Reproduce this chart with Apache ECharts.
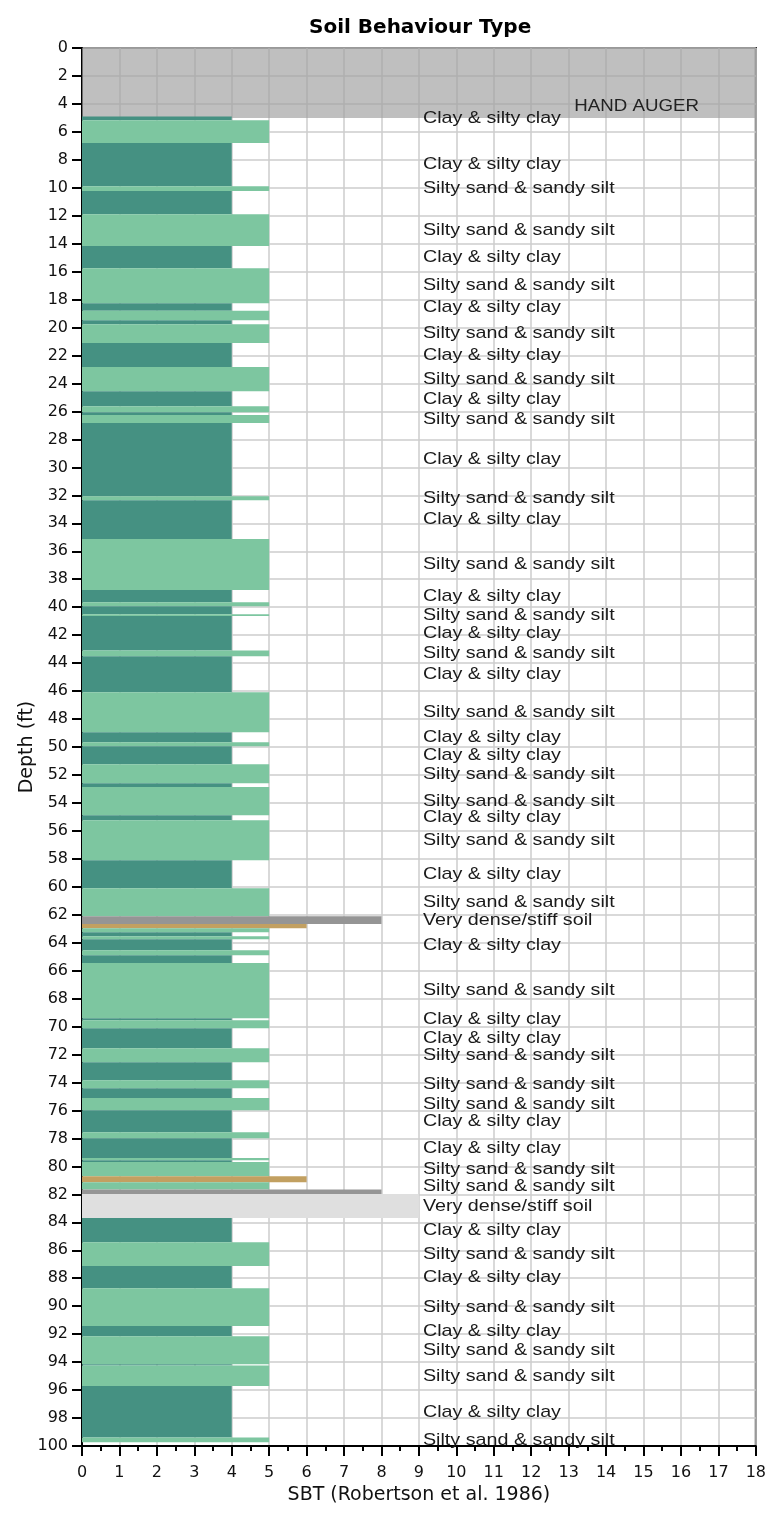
<!DOCTYPE html>
<html>
<head>
<meta charset="utf-8">
<title>Soil Behaviour Type</title>
<script src="https://cdn.jsdelivr.net/npm/echarts@6/dist/echarts.min.js"></script>
<style>
  html, body { margin: 0; padding: 0; background: #fff; }
  #chart { width: 769px; height: 1522px; }
</style>
</head>
<body>
<div id="chart"></div>
<script>
// Layer boundaries (ft), contiguous: layer i spans layerDepths[i] .. layerDepths[i+1]
const layerDepths = [
  4.9, 5.17, 6.79, 9.89, 10.23, 11.9, 14.16, 15.76, 18.26, 18.79, 19.48, 19.76,
  21.1, 22.82, 24.56, 25.63, 26.06, 26.25, 26.82, 32.07, 32.35, 35.12, 38.77,
  39.65, 39.94, 40.51, 40.63, 43.1, 43.51, 46.09, 48.95, 49.66, 49.95, 51.24,
  52.6, 52.86, 54.89, 55.24, 58.1, 60.1, 62.1, 62.66, 62.97, 63.25, 63.54,
  63.76, 64.54, 64.9, 65.45, 69.41, 69.55, 70.12, 71.55, 72.55, 73.84, 74.41,
  75.1, 75.99, 77.56, 77.99, 79.4, 79.56, 79.68, 80.71, 81.14, 81.66, 81.97,
  83.69, 85.43, 87.12, 88.72, 91.42, 92.15, 94.16, 94.25, 95.71, 99.4, 99.73
];

// SBT zone of each layer
const layerSbt = [
  4, 5, 4, 5, 4, 5, 4, 5, 4, 5, 4, 5, 4, 5, 4, 5, 4, 5, 4, 5,
  4, 5, 4, 5, 4, 5, 4, 5, 4, 5, 4, 5, 4, 5, 4, 5, 4, 5, 4, 5,
  8, 6, 5, 4, 5, 4, 5, 4, 5, 4, 5, 4, 5, 4, 5, 4, 5, 4, 5, 4,
  5, 4, 5, 6, 5, 8, 9, 4, 5, 4, 5, 4, 5, 4, 5, 4, 5
];

// Whether a layer carries a description label (1) or not (0)
const layerLabeled = [
  1, 0, 1, 1, 0, 1, 1, 1, 1, 0, 0, 1, 1, 1, 1, 0, 0, 1, 1, 1,
  1, 1, 1, 0, 0, 1, 1, 1, 1, 1, 1, 0, 1, 1, 0, 1, 1, 1, 1, 1,
  1, 0, 0, 0, 0, 1, 0, 0, 1, 1, 0, 1, 1, 0, 1, 0, 1, 1, 0, 1,
  0, 0, 1, 0, 1, 0, 1, 1, 1, 1, 1, 1, 1, 0, 1, 1, 1
];

// Description per SBT zone
const sbtNames = {
  4: 'Clay & silty clay',
  5: 'Silty sand & sandy silt',
  6: 'Sand & silty sand',
  8: 'Very dense/stiff soil',
  9: 'Very dense/stiff soil'
};

// Hand-augered interval at the top of the hole
const augerTop = 0;
const augerBase = 5;
const augerText = 'HAND AUGER';

const sbtColors = {
  4: '#459182',
  5: '#7dc6a0',
  6: '#c2a061',
  8: '#959595',
  9: '#dfdfdf'
};

const layerData = layerSbt.map((s, i) => [layerDepths[i], layerDepths[i + 1], s]);
const labelData = [];
layerSbt.forEach((s, i) => {
  if (layerLabeled[i]) labelData.push([(layerDepths[i] + layerDepths[i + 1]) / 2, s]);
});

const chart = echarts.init(document.getElementById('chart'), null, { renderer: 'canvas' });

const labelFont = '17px "Liberation Sans", Arial, sans-serif';
const axisFont = '"DejaVu Sans", Verdana, sans-serif';

chart.setOption({
  animation: false,
  backgroundColor: '#ffffff',
  title: {
    text: 'Soil Behaviour Type',
    left: 304,
    top: 13,
    textStyle: { fontFamily: axisFont, fontWeight: 'bold', fontSize: 20, color: '#000' }
  },
  grid: {
    left: 82, top: 48, width: 675, height: 1398,
    show: true, borderColor: '#000', borderWidth: 2, backgroundColor: 'transparent'
  },
  xAxis: {
    type: 'value', min: 0, max: 18, interval: 1,
    name: 'SBT (Robertson et al. 1986)',
    nameLocation: 'middle', nameGap: 40,
    nameTextStyle: { fontFamily: axisFont, fontSize: 19, color: '#111' },
    axisLine: { show: true, onZero: false, lineStyle: { color: '#000', width: 2 } },
    axisTick: { show: true, length: 10, lineStyle: { color: '#000', width: 2 } },
    minorTick: { show: true, splitNumber: 2, length: 5, lineStyle: { color: '#000', width: 2 } },
    axisLabel: { fontFamily: axisFont, fontSize: 16, color: '#111', margin: 19 },
    splitLine: { show: true, lineStyle: { color: '#cccccc', width: 1.5 } }
  },
  yAxis: {
    type: 'value', min: 0, max: 100, interval: 2, inverse: true,
    name: 'Depth (ft)',
    nameLocation: 'middle', nameGap: 45, nameMoveOverlap: false,
    nameTextStyle: { fontFamily: axisFont, fontSize: 19, color: '#111' },
    axisLine: { show: true, onZero: false, lineStyle: { color: '#000', width: 2 } },
    axisTick: { show: true, length: 10, lineStyle: { color: '#000', width: 2 } },
    axisLabel: { fontFamily: axisFont, fontSize: 16, color: '#111', margin: 14 },
    splitLine: { show: true, lineStyle: { color: '#cccccc', width: 1.5 } }
  },
  series: [
    {
      // hand auger band, translucent so grid lines show through
      type: 'custom',
      z: 1,
      silent: true,
      data: [[augerTop, augerBase]],
      renderItem: function (params, api) {
        const p0 = api.coord([0, api.value(0)]);
        const p1 = api.coord([18, api.value(1)]);
        const t = api.coord([13.15, api.value(1) - 0.8]);
        return {
          type: 'group',
          children: [
            {
              type: 'rect',
              shape: { x: p0[0], y: p0[1], width: p1[0] - p0[0], height: p1[1] - p0[1] },
              style: { fill: 'rgba(160,160,160,0.68)' }
            },
            {
              type: 'text',
              x: t[0], y: t[1], scaleX: 1.1,
              style: { text: augerText, font: labelFont, fill: '#222', align: 'left', verticalAlign: 'middle' }
            }
          ]
        };
      }
    },
    {
      // soil layers
      type: 'custom',
      z: 2,
      silent: true,
      data: layerData,
      renderItem: function (params, api) {
        const s = api.value(2);
        const p0 = api.coord([0, api.value(0)]);
        const p1 = api.coord([s, api.value(1)]);
        return {
          type: 'rect',
          shape: { x: p0[0], y: p0[1], width: p1[0] - p0[0], height: p1[1] - p0[1] },
          style: { fill: sbtColors[s] }
        };
      }
    },
    {
      // layer descriptions
      type: 'custom',
      z: 3,
      silent: true,
      data: labelData,
      renderItem: function (params, api) {
        const p = api.coord([9, api.value(0)]);
        return {
          type: 'text',
          x: p[0] + 4, y: p[1], scaleX: 1.16,
          style: { text: sbtNames[api.value(1)], font: labelFont, fill: '#1a1a1a', align: 'left', verticalAlign: 'middle' }
        };
      }
    }
  ]
});
</script>
</body>
</html>
